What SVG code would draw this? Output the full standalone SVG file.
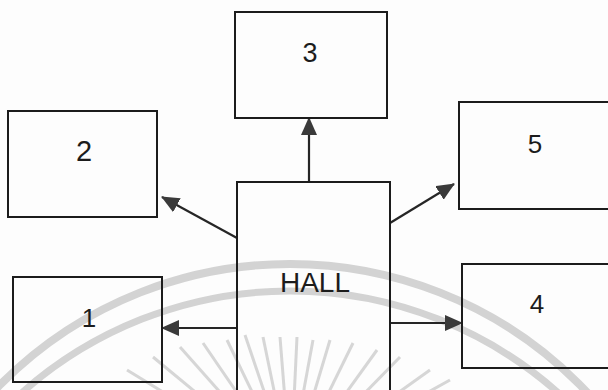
<svg xmlns="http://www.w3.org/2000/svg" width="608" height="390" viewBox="0 0 608 390">
<style>
.box{fill:none;stroke:#1c1c1c;stroke-width:2}
.lbl{font-family:"Liberation Sans",Arial,sans-serif;fill:#1c1c1c;text-anchor:middle}
.con{stroke:#262626;stroke-width:2.2;fill:none}
.wm{fill:none;stroke:#d3d3d3}
</style>
<defs>
<marker id="ah" viewBox="0 0 18 16" refX="17" refY="8" markerWidth="18" markerHeight="16" markerUnits="userSpaceOnUse" orient="auto">
<path d="M0,0 L18,8 L0,16 Z" fill="#3a3a3a"/>
</marker>
</defs>
<rect width="608" height="390" fill="#fdfdfd"/>
<g id="watermark">
<circle class="wm" cx="290" cy="672" r="408" stroke-width="8"/>
<circle class="wm" cx="290" cy="695" r="404" stroke-width="7"/>
<g stroke-width="3" stroke="#d6d6d6">
<line x1="127" y1="370" x2="176" y2="400"/>
<line x1="153" y1="357" x2="205" y2="400"/>
<line x1="180" y1="347" x2="227" y2="400"/>
<line x1="203" y1="343" x2="242" y2="400"/>
<line x1="227" y1="340" x2="256" y2="400"/>
<line x1="245" y1="335" x2="267" y2="400"/>
<line x1="263" y1="337" x2="276" y2="400"/>
<line x1="280" y1="337" x2="285" y2="400"/>
<line x1="297" y1="337" x2="294" y2="400"/>
<line x1="313" y1="340" x2="302" y2="400"/>
<line x1="330" y1="340" x2="312" y2="400"/>
<line x1="353" y1="343" x2="325" y2="400"/>
<line x1="377" y1="350" x2="341" y2="400"/>
<line x1="400" y1="357" x2="358" y2="400"/>
<line x1="430" y1="370" x2="388" y2="400"/>
<line x1="450" y1="380" x2="414" y2="400"/>
</g>
</g>
<g id="connectors">
<line class="con" x1="309" y1="182" x2="309" y2="118" marker-end="url(#ah)"/>
<line class="con" x1="237" y1="238" x2="162" y2="197" marker-end="url(#ah)"/>
<line class="con" x1="390" y1="223" x2="454" y2="184" marker-end="url(#ah)"/>
<line class="con" x1="237" y1="328" x2="162" y2="328" marker-end="url(#ah)"/>
<line class="con" x1="391" y1="323" x2="462" y2="323" marker-end="url(#ah)"/>
</g>
<g id="node-hall">
<rect class="box" x="237" y="182" width="153" height="220"/>
<text class="lbl" x="315" y="292" font-size="28">HALL</text>
</g>
<g id="node-3">
<rect class="box" x="235" y="12" width="152" height="106"/>
<text class="lbl" x="310" y="62" font-size="27">3</text>
</g>
<g id="node-2">
<rect class="box" x="8" y="111" width="149" height="106"/>
<text class="lbl" x="84" y="161" font-size="29">2</text>
</g>
<g id="node-5">
<rect class="box" x="459" y="102" width="160" height="107"/>
<text class="lbl" x="535" y="153" font-size="26">5</text>
</g>
<g id="node-1">
<rect class="box" x="13" y="277" width="149" height="105"/>
<text class="lbl" x="89" y="327" font-size="26">1</text>
</g>
<g id="node-4">
<rect class="box" x="462" y="264" width="160" height="104"/>
<text class="lbl" x="537" y="313" font-size="26">4</text>
</g>
</svg>
